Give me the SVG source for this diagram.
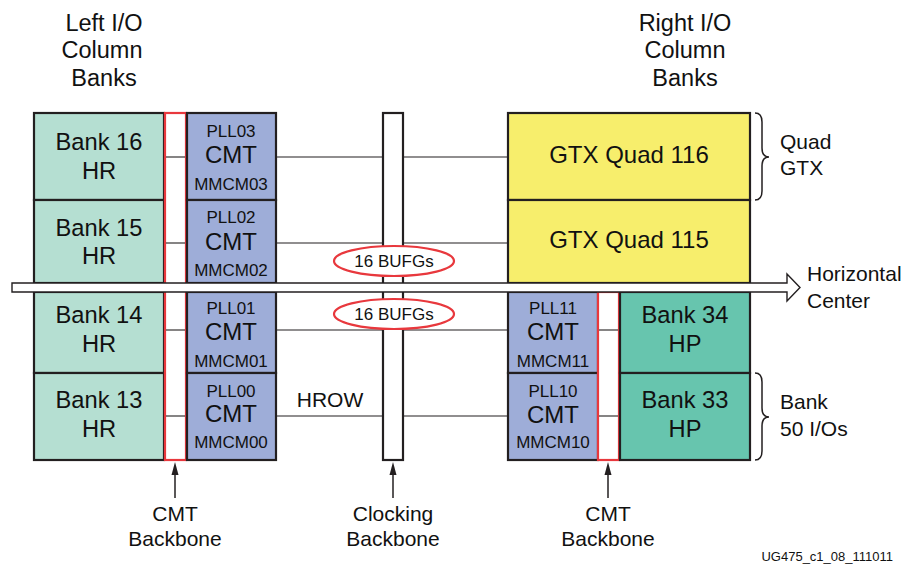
<svg xmlns="http://www.w3.org/2000/svg" width="903" height="567" viewBox="0 0 903 567">
<style>
text{font-family:"Liberation Sans",Arial,sans-serif;fill:#111;text-anchor:middle}
.box{stroke:#231f20;stroke-width:2.2}
.hr{fill:#b5dfd2}
.hp{fill:#67c5ae}
.cmt{fill:#9eadd8}
.gtx{fill:#f7ee6c}
.red{fill:#fff;stroke:#e8383d;stroke-width:2.2}
.ln{stroke:#231f20;stroke-width:1.1;fill:none}
.ar{stroke:#231f20;stroke-width:1.5;fill:none}
.ah{fill:#231f20}
.b{font-size:23.7px}
.s{font-size:17px}
.c{font-size:24px}
.h{font-size:23.5px}
.l{font-size:21px}
.brace{fill:none;stroke:#231f20;stroke-width:1.5}
</style>

<g id="headers">
<text class="h" x="104" y="31">Left I/O</text>
<text class="h" x="102" y="58">Column</text>
<text class="h" x="104" y="86">Banks</text>
<text class="h" x="685" y="31">Right I/O</text>
<text class="h" x="685" y="58">Column</text>
<text class="h" x="685" y="86">Banks</text>
</g>

<g id="connectors">
<line class="ln" x1="276" y1="157" x2="383" y2="157"/>
<line class="ln" x1="403" y1="157" x2="508" y2="157"/>
<line class="ln" x1="276" y1="243" x2="383" y2="243"/>
<line class="ln" x1="403" y1="243" x2="508" y2="243"/>
<line class="ln" x1="276" y1="330" x2="383" y2="330"/>
<line class="ln" x1="403" y1="330" x2="508" y2="330"/>
<line class="ln" x1="276" y1="416" x2="383" y2="416"/>
<line class="ln" x1="403" y1="416" x2="508" y2="416"/>
<line class="ar" x1="175" y1="498" x2="175" y2="472"/>
<polygon class="ah" points="175,462 171.5,475 178.5,475"/>
<line class="ar" x1="393" y1="498" x2="393" y2="472"/>
<polygon class="ah" points="393,462 389.5,475 396.5,475"/>
<line class="ar" x1="608" y1="498" x2="608" y2="472"/>
<polygon class="ah" points="608,462 604.5,475 611.5,475"/>
</g>

<g id="bank16"><rect class="box hr" x="34" y="113" width="130" height="87"/><text class="b" x="99" y="150">Bank 16</text><text class="b" x="99" y="179">HR</text></g>
<g id="bank15"><rect class="box hr" x="34" y="200" width="130" height="83"/><text class="b" x="99" y="236">Bank 15</text><text class="b" x="99" y="264">HR</text></g>
<g id="bank14"><rect class="box hr" x="34" y="292" width="130" height="81"/><text class="b" x="99" y="323">Bank 14</text><text class="b" x="99" y="352">HR</text></g>
<g id="bank13"><rect class="box hr" x="34" y="373" width="130" height="87"/><text class="b" x="99" y="408">Bank 13</text><text class="b" x="99" y="437">HR</text></g>

<g id="cmt-backbone-left"><rect class="red" x="165" y="113" width="21" height="347"/>
<line class="ln" x1="166" y1="157" x2="185" y2="157"/>
<line class="ln" x1="166" y1="243" x2="185" y2="243"/>
<line class="ln" x1="166" y1="330" x2="185" y2="330"/>
<line class="ln" x1="166" y1="416" x2="185" y2="416"/></g>

<g id="cmt3"><rect class="box cmt" x="187" y="113" width="89" height="87"/><text class="s" x="231" y="137">PLL03</text><text class="c" x="231" y="163">CMT</text><text class="s" x="231" y="190">MMCM03</text></g>
<g id="cmt2"><rect class="box cmt" x="187" y="200" width="89" height="83"/><text class="s" x="231" y="223">PLL02</text><text class="c" x="231" y="250">CMT</text><text class="s" x="231" y="276">MMCM02</text></g>
<g id="cmt1"><rect class="box cmt" x="187" y="292" width="89" height="81"/><text class="s" x="231" y="314">PLL01</text><text class="c" x="231" y="340">CMT</text><text class="s" x="231" y="367">MMCM01</text></g>
<g id="cmt0"><rect class="box cmt" x="187" y="373" width="89" height="87"/><text class="s" x="231" y="397">PLL00</text><text class="c" x="231" y="422">CMT</text><text class="s" x="231" y="448">MMCM00</text></g>

<g id="clocking-backbone"><rect class="box" fill="#fff" x="383" y="113" width="20" height="347"/></g>

<g id="hrow"><text class="l" x="330" y="407">HROW</text></g>

<g id="gtx116"><rect class="box gtx" x="508" y="113" width="242" height="87"/><text class="c" x="629" y="163">GTX Quad 116</text></g>
<g id="gtx115"><rect class="box gtx" x="508" y="200" width="242" height="83"/><text class="c" x="629" y="248">GTX Quad 115</text></g>

<g id="cmt11"><rect class="box cmt" x="508" y="292" width="90" height="81"/><text class="s" x="553" y="314">PLL11</text><text class="c" x="553" y="340">CMT</text><text class="s" x="553" y="367">MMCM11</text></g>
<g id="cmt10"><rect class="box cmt" x="508" y="373" width="90" height="87"/><text class="s" x="553" y="397">PLL10</text><text class="c" x="553" y="423">CMT</text><text class="s" x="553" y="448">MMCM10</text></g>

<g id="cmt-backbone-right"><rect class="red" x="598" y="292" width="21" height="168"/>
<line class="ln" x1="599" y1="330" x2="618" y2="330"/>
<line class="ln" x1="599" y1="416" x2="618" y2="416"/></g>

<g id="bank34"><rect class="box hp" x="620" y="292" width="130" height="81"/><text class="b" x="685" y="323">Bank 34</text><text class="b" x="685" y="352">HP</text></g>
<g id="bank33"><rect class="box hp" x="620" y="373" width="130" height="87"/><text class="b" x="685" y="408">Bank 33</text><text class="b" x="685" y="437">HP</text></g>

<g id="horizontal-center">
<path d="M12,283 H787 V274 L800,287.5 L787,301 V292 H12 Z" fill="#fff" stroke="#231f20" stroke-width="1.4" stroke-linejoin="miter"/>
<text class="l" x="807" y="281" style="text-anchor:start">Horizontal</text>
<text class="l" x="807" y="308" style="text-anchor:start">Center</text>
</g>

<g id="bufg-upper"><ellipse cx="394" cy="261" rx="60" ry="15" fill="#fff" stroke="#e8383d" stroke-width="2.2"/><text class="s" x="394" y="267">16 BUFGs</text></g>
<g id="bufg-lower"><ellipse cx="394" cy="314" rx="60" ry="15" fill="#fff" stroke="#e8383d" stroke-width="2.2"/><text class="s" x="394" y="320">16 BUFGs</text></g>

<g id="quad-gtx-brace">
<path class="brace" d="M755,113 Q762,113 762,122 V148 Q762,157 769,157 Q762,157 762,166 V191 Q762,200 755,200"/>
<text class="l" x="780" y="149" style="text-anchor:start">Quad</text>
<text class="l" x="780" y="175" style="text-anchor:start">GTX</text>
</g>
<g id="bank-brace">
<path class="brace" d="M755,373 Q762,373 762,382 V408 Q762,417 769,417 Q762,417 762,426 V451 Q762,460 755,460"/>
<text class="l" x="780" y="409" style="text-anchor:start">Bank</text>
<text class="l" x="780" y="436" style="text-anchor:start">50 I/Os</text>
</g>

<g id="labels">
<text class="l" x="175" y="521">CMT</text>
<text class="l" x="175" y="546">Backbone</text>
<text class="l" x="393" y="521">Clocking</text>
<text class="l" x="393" y="546">Backbone</text>
<text class="l" x="608" y="521">CMT</text>
<text class="l" x="608" y="546">Backbone</text>
<text x="893" y="561" style="text-anchor:end;font-size:13px">UG475_c1_08_111011</text>
</g>
</svg>
